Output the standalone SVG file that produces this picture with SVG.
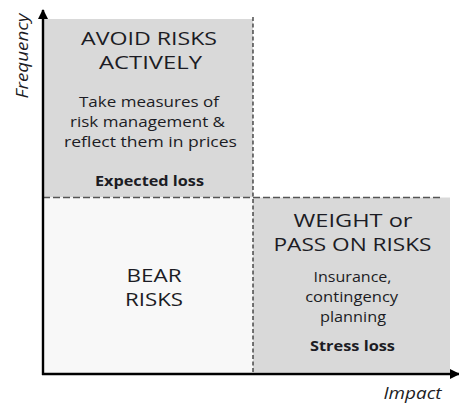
<svg xmlns="http://www.w3.org/2000/svg" width="459" height="403" viewBox="0 0 459 403">
  <style>
    text { font-family: "Open Sans", "Lato", "Liberation Sans", sans-serif; fill: #1c1c24; text-anchor: middle; }
    .title { font-size: 19px; }
    .body { font-size: 15px; }
    .key { font-size: 15px; font-weight: bold; }
    .axis-label { font-size: 16px; font-style: italic; }
    .axis { stroke: #000; stroke-width: 2.4; fill: none; }
    .dash-v { stroke: #222; stroke-width: 1.2; stroke-dasharray: 4 2.5; fill: none; }
    .dash-h { stroke: #555; stroke-width: 1.3; stroke-dasharray: 7 3; fill: none; }
  </style>
  <defs>
    <marker id="arrow" viewBox="0 0 10 10" refX="9" refY="5" markerWidth="10" markerHeight="10" markerUnits="userSpaceOnUse" orient="auto">
      <path d="M0,0 L10,5 L0,10 Z" fill="#000"/>
    </marker>
  </defs>

  <rect width="459" height="403" fill="#fff"/>

  <!-- quadrant: high frequency, low impact -->
  <g id="avoid">
    <rect x="43" y="19" width="210" height="178.5" fill="#d9d9d9"/>
    <text class="title" x="149" y="45" textLength="136" lengthAdjust="spacingAndGlyphs">AVOID RISKS</text>
    <text class="title" x="150.5" y="69" textLength="103" lengthAdjust="spacingAndGlyphs">ACTIVELY</text>
    <text class="body" x="149" y="107" textLength="140" lengthAdjust="spacingAndGlyphs">Take measures of</text>
    <text class="body" x="147.5" y="127" textLength="155" lengthAdjust="spacingAndGlyphs">risk management &amp;</text>
    <text class="body" x="150.5" y="147" textLength="173" lengthAdjust="spacingAndGlyphs">reflect them in prices</text>
    <text class="key" x="149.5" y="186" textLength="109" lengthAdjust="spacingAndGlyphs">Expected loss</text>
  </g>

  <!-- quadrant: low frequency, low impact -->
  <g id="bear">
    <rect x="43" y="197.5" width="210" height="176.5" fill="#f8f8f8"/>
    <text class="title" x="154" y="282" textLength="55" lengthAdjust="spacingAndGlyphs">BEAR</text>
    <text class="title" x="154" y="306" textLength="58" lengthAdjust="spacingAndGlyphs">RISKS</text>
  </g>

  <!-- quadrant: low frequency, high impact -->
  <g id="weight">
    <rect x="253" y="197.5" width="197" height="175" fill="#d9d9d9"/>
    <text class="title" x="353" y="227" textLength="119" lengthAdjust="spacingAndGlyphs">WEIGHT or</text>
    <text class="title" x="352.5" y="251" textLength="158" lengthAdjust="spacingAndGlyphs">PASS ON RISKS</text>
    <text class="body" x="352.5" y="282" textLength="78" lengthAdjust="spacingAndGlyphs">Insurance,</text>
    <text class="body" x="351.7" y="302" textLength="93" lengthAdjust="spacingAndGlyphs">contingency</text>
    <text class="body" x="353" y="322" textLength="66" lengthAdjust="spacingAndGlyphs">planning</text>
    <text class="key" x="352.5" y="351" textLength="85" lengthAdjust="spacingAndGlyphs">Stress loss</text>
  </g>

  <!-- quadrant dividers and axes -->
  <g id="connectors">
    <line class="dash-h" x1="43" y1="197.5" x2="442" y2="197.5"/>
    <line class="dash-v" x1="253" y1="17" x2="253" y2="374"/>
    <line class="axis" x1="43" y1="375" x2="43" y2="10" marker-end="url(#arrow)"/>
    <line class="axis" x1="42" y1="374" x2="459" y2="374" marker-end="url(#arrow)"/>
  </g>

  <g id="axis-labels">
    <text class="axis-label" transform="translate(28,56) rotate(-90)" textLength="85" lengthAdjust="spacingAndGlyphs">Frequency</text>
    <text class="axis-label" x="412.5" y="399" textLength="58" lengthAdjust="spacingAndGlyphs">Impact</text>
  </g>
</svg>
